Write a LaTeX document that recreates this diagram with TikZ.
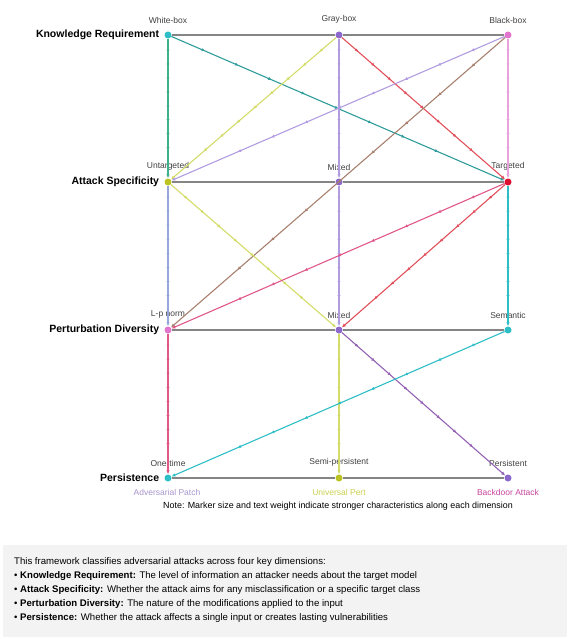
\documentclass[tikz,border=0pt]{standalone}
\usepackage{fontspec}
\setmainfont{Liberation Sans}
\usetikzlibrary{arrows.meta, positioning, decorations.markings}
\definecolor{kgray}{HTML}{858585}
\definecolor{capfill}{HTML}{F3F3F3}
\definecolor{cteal}{HTML}{2E9C9A}
\definecolor{cgreen}{HTML}{3DB08E}
\definecolor{cyellow}{HTML}{D3DC68}
\definecolor{clav}{HTML}{B29CE0}
\definecolor{cred}{HTML}{E2505C}
\definecolor{cpink}{HTML}{E8A2DE}
\definecolor{cbrown}{HTML}{A8806E}
\definecolor{cblue}{HTML}{98A6DE}
\definecolor{cpinkred}{HTML}{E0588A}
\definecolor{ccyan}{HTML}{2EBEC6}
\definecolor{cpurple}{HTML}{9462B4}
\definecolor{dpurple}{HTML}{8C68CC}
\definecolor{dolive}{HTML}{BCC424}
\definecolor{dred}{HTML}{DD1030}
\definecolor{dpink}{HTML}{E276CE}
\definecolor{dmagenta}{HTML}{C8449E}
\tikzset{
  dimlabel/.style={font=\bfseries\fontsize{10.5}{12}\selectfont, inner sep=0pt},
  catlabel/.style={font=\fontsize{8.5}{9}\selectfont, text=black!75, inner sep=0pt},
  catdot/.style={circle, inner sep=0pt, minimum size=7pt},
  rowline/.style={draw=kgray, line width=1.8pt},
  flowline/.style={line width=1.1pt, -{Latex[length=4pt,width=3.5pt]},
    postaction={decorate},
    decoration={markings, mark=between positions 0.1 and 0.9 step 0.1 with {\arrow{Latex[length=3pt,width=3.4pt]}}}},
  attlabel/.style={font=\fontsize{8.5}{10}\selectfont, inner sep=0pt},
  notetext/.style={font=\fontsize{8.9}{10}\selectfont, inner sep=0pt},
  captext/.style={font=\fontsize{9.6}{14}\selectfont, align=left, anchor=north west, inner sep=0pt},
}
\begin{document}
\begin{tikzpicture}[x=1pt, y=-1pt]
\useasboundingbox (0,0) rectangle (567,639);
\fill[capfill] (3,545) rectangle (567,637);

\node[catdot, fill=ccyan] (wb) at (168,35) {};
\node[catdot, fill=dpurple] (gb) at (339,35) {};
\node[catdot, fill=dpink] (bb) at (508,35) {};
\node[catdot, fill=dolive] (ut) at (168,182) {};
\node[catdot, fill=dpurple] (mx) at (339,182) {};
\node[catdot, fill=dred] (tg) at (508,182) {};
\node[catdot, fill=dpink] (lp) at (168,330) {};
\node[catdot, fill=dpurple] (pm) at (339,330) {};
\node[catdot, fill=ccyan] (sm) at (508,330) {};
\node[catdot, fill=ccyan] (ot) at (168,478) {};
\node[catdot, fill=dolive] (sp) at (339,478) {};
\node[catdot, fill=dpurple] (ps) at (508,478) {};

\node[dimlabel, left=5pt of wb] (kr) {Knowledge Requirement};
\node[dimlabel, left=5pt of ut] (as) {Attack Specificity};
\node[dimlabel, left=5pt of lp] (pd) {Perturbation Diversity};
\node[dimlabel, left=5pt of ot] (pe) {Persistence};

\node[catlabel, above=8pt of wb] (wbl) {White-box};
\node[catlabel, above=8pt of gb] (gbl) {Gray-box};
\node[catlabel, above=8pt of bb] (bbl) {Black-box};
\node[catlabel, above=8pt of ut] (utl) {Untargeted};
\node[catlabel, above=8pt of mx] (mxl) {Mixed};
\node[catlabel, above=8pt of tg] (tgl) {Targeted};
\node[catlabel, above=8pt of lp] (lpl) {L-p norm};
\node[catlabel, above=8pt of pm] (pml) {Mixed};
\node[catlabel, above=8pt of sm] (sml) {Semantic};
\node[catlabel, above=8pt of ot] (otl) {One-time};
\node[catlabel, above=8pt of sp] (spl) {Semi-persistent};
\node[catlabel, above=8pt of ps] (psl) {Persistent};

\draw[rowline] (wb) -- (gb); \draw[rowline] (gb) -- (bb);
\draw[rowline] (ut) -- (mx); \draw[rowline] (mx) -- (tg);
\draw[rowline] (lp) -- (pm); \draw[rowline] (pm) -- (sm);
\draw[rowline] (ot) -- (sp); \draw[rowline] (sp) -- (ps);

\draw[flowline, cgreen] (wb) -- (ut);
\draw[flowline, cteal] (wb) -- (tg);
\draw[flowline, cyellow] (gb) -- (ut);
\draw[flowline, clav] (gb) -- (mx);
\draw[flowline, cred] (gb) -- (tg);
\draw[flowline, clav] (bb) -- (ut);
\draw[flowline, cpink] (bb) -- (tg);
\draw[flowline, cbrown] (bb) -- (lp);
\draw[flowline, cblue] (ut) -- (lp);
\draw[flowline, cyellow] (ut) -- (pm);
\draw[flowline, clav] (mx) -- (pm);
\draw[flowline, cred] (tg) -- (pm);
\draw[flowline, cpinkred] (tg) -- (lp);
\draw[flowline, ccyan] (tg) -- (sm);
\draw[flowline, cpinkred] (lp) -- (ot);
\draw[flowline, cyellow] (pm) -- (sp);
\draw[flowline, cpurple] (pm) -- (ps);
\draw[flowline, ccyan] (sm) -- (ot);

\node[attlabel, text=cblue!80!cpinkred] (apatch) at (167,492) {Adversarial Patch};
\node[attlabel, text=dolive!80] (upert) at (339,492) {Universal Pert};
\node[attlabel, text=dmagenta] (bdoor) at (508,492) {Backdoor Attack};
\node[notetext] (note) at (338,506) {Note: Marker size and text weight indicate stronger characteristics along each dimension};

\node[captext] (cap) at (14,557) {This framework classifies adversarial attacks across four key dimensions:\\
\textbullet\ \textbf{Knowledge Requirement:} The level of information an attacker needs about the target model\\
\textbullet\ \textbf{Attack Specificity:} Whether the attack aims for any misclassification or a specific target class\\
\textbullet\ \textbf{Perturbation Diversity:} The nature of the modifications applied to the input\\
\textbullet\ \textbf{Persistence:} Whether the attack affects a single input or creates lasting vulnerabilities};
\end{tikzpicture}
\end{document}
